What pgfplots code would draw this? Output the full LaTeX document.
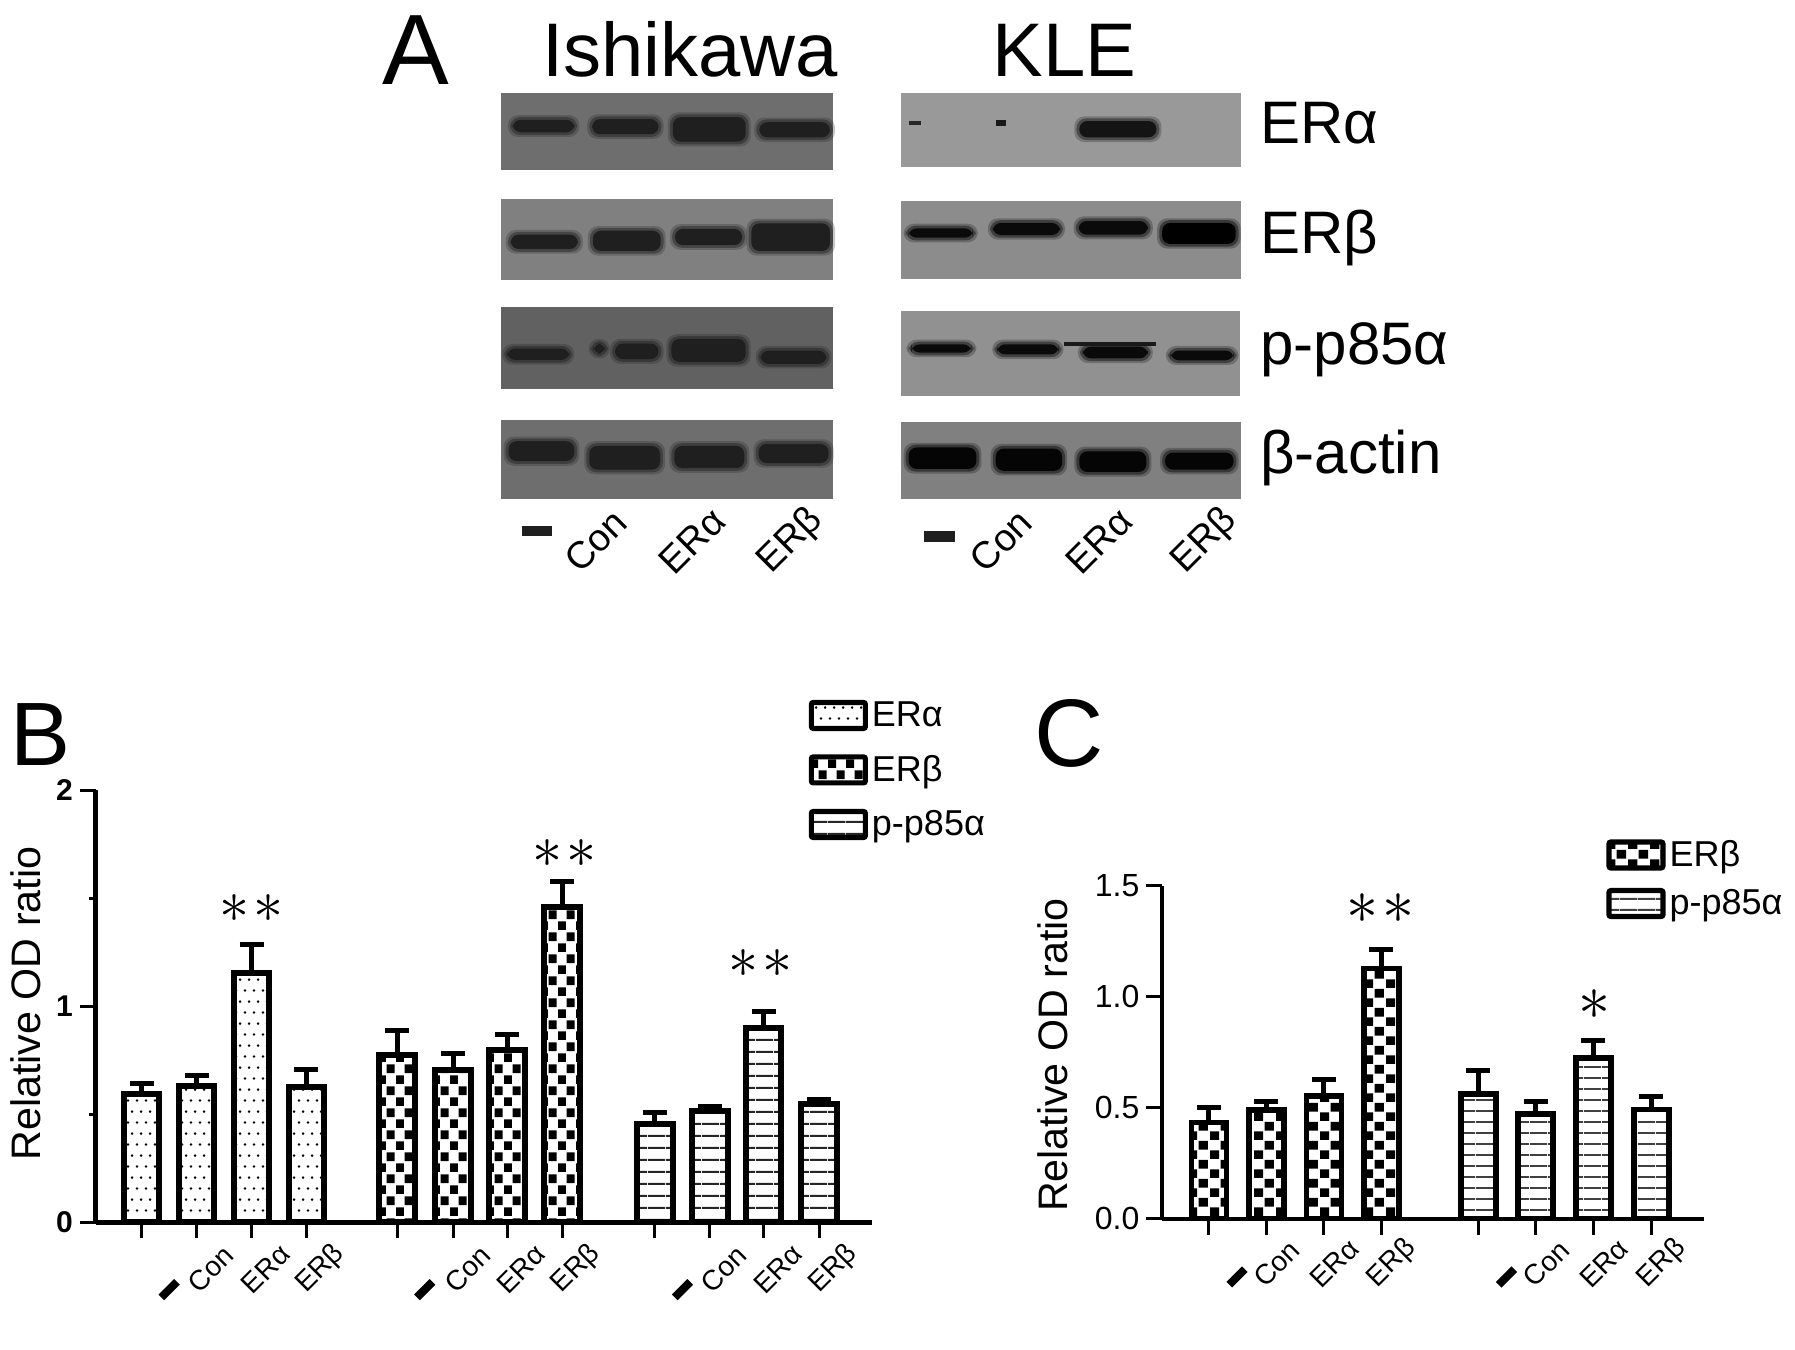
\documentclass[border=0pt]{standalone}
\usepackage{fontspec}
\setmainfont{Liberation Sans}
\usepackage{pgfplots}
\pgfplotsset{compat=1.18}
\usetikzlibrary{patterns}

\newcommand\fs[1]{\fontsize{#1}{#1}\selectfont}

% bar fills, tile sizes read from the crops (1 px = 0.5 pt)
\pgfdeclarepatternformonly{dotsB}{\pgfqpoint{0pt}{0pt}}{\pgfqpoint{4.5pt}{11.2pt}}{\pgfqpoint{4.5pt}{11.2pt}}{%
  \pgfpathcircle{\pgfqpoint{1.1pt}{2.8pt}}{.75pt}\pgfpathcircle{\pgfqpoint{3.35pt}{8.4pt}}{.75pt}\pgfusepath{fill}}
\pgfdeclarepatternformonly{checkB}{\pgfqpoint{0pt}{0pt}}{\pgfqpoint{9pt}{11.2pt}}{\pgfqpoint{9pt}{11.2pt}}{%
  \pgfpathrectangle{\pgfqpoint{0pt}{0pt}}{\pgfqpoint{4.2pt}{4.4pt}}\pgfpathrectangle{\pgfqpoint{4.5pt}{5.6pt}}{\pgfqpoint{4.2pt}{4.4pt}}\pgfusepath{fill}}
\pgfdeclarepatternformonly{stripB}{\pgfqpoint{0pt}{0pt}}{\pgfqpoint{9pt}{5.85pt}}{\pgfqpoint{9pt}{5.85pt}}{%
  \pgfpathrectangle{\pgfqpoint{0pt}{0pt}}{\pgfqpoint{9pt}{1.1pt}}\pgfusepath{fill}}
\pgfdeclarepatternformonly{checkC}{\pgfqpoint{0pt}{0pt}}{\pgfqpoint{11pt}{9.65pt}}{\pgfqpoint{11pt}{9.65pt}}{%
  \pgfpathrectangle{\pgfqpoint{0pt}{0pt}}{\pgfqpoint{4.8pt}{4.5pt}}\pgfpathrectangle{\pgfqpoint{5.5pt}{4.82pt}}{\pgfqpoint{4.8pt}{4.5pt}}\pgfusepath{fill}}
\pgfdeclarepatternformonly{stripC}{\pgfqpoint{0pt}{0pt}}{\pgfqpoint{9pt}{5.35pt}}{\pgfqpoint{9pt}{5.35pt}}{%
  \pgfpathrectangle{\pgfqpoint{0pt}{0pt}}{\pgfqpoint{9pt}{1pt}}\pgfusepath{fill}}

\pgfplotsset{
  barB/.style={ybar, bar width=17.75pt, bar shift=0pt, draw=black, line width=3pt,
    error bars/y dir=plus, error bars/y explicit,
    error bars/error bar style={line width=2.5pt},
    error bars/error mark options={line width=2.5pt, mark size=6pt, rotate=90}},
  barC/.style={ybar, bar width=17.5pt, bar shift=0pt, draw=black, line width=2.8pt,
    error bars/y dir=plus, error bars/y explicit,
    error bars/error bar style={line width=2.5pt},
    error bars/error mark options={line width=2.5pt, mark size=6pt, rotate=90}},
  panel/.style={
    scale only axis, clip=false,
    axis x line*=bottom, axis y line*=left,
    axis line style={-},
    tick align=outside,
    major tick length=8pt, minor tick length=3.5pt,
    tick style={black, line width=1.5pt},
    xtick pos=bottom, ytick pos=left,
    ymin=0,
    xticklabel style={font=\fs{14}, anchor=center, rotate=45},
    extra x tick style={xticklabel style={rotate=0, anchor=center}},
    extra x tick labels={\rule{11pt}{4pt},\rule{11pt}{4pt},\rule{11pt}{4pt}},
    every axis y label/.style={rotate=90, anchor=center, font=\fs{20.6}},
    legend cell align=left,
    legend image code/.code={\draw[##1, /tikz/line width=2.6pt, /tikz/rounded corners=1pt] (0pt,-6.5pt) rectangle (27pt,6.5pt);},
  },
}

% one western-blot band, in crop units: soft halo and dark core
\newcommand\band[5][black!88]{%
  \fill[#1,opacity=.25,rounded corners=5pt] (#2-5,#4-9) rectangle (#3+5,#5+9);
  \fill[#1,opacity=.45,rounded corners=5pt] (#2-2,#4-4) rectangle (#3+2,#5+4);
  \fill[#1,rounded corners=4pt] (#2+2,#4+3) rectangle (#3-2,#5-3);}
\newcommand\blot[5]{\fill[black!#5] (#1,#3) rectangle (#2,#4);}

\begin{document}
\begin{tikzpicture}
\useasboundingbox (0,0) rectangle (897.5pt,-675pt);

% panel A: blots, coordinates as in the crop of the region at x=360
\begin{scope}[shift={(180pt,0pt)}, x=0.35714pt, y=-0.19455pt]
  \blot{197}{662}{238}{436}{57}
  \blot{197}{662}{512}{720}{50}
  \blot{197}{662}{790}{1000}{62}
  \blot{197}{662}{1080}{1282}{57}
  \blot{758}{1233}{238}{428}{40}
  \blot{758}{1233}{516}{717}{45}
  \blot{758}{1232}{798}{1018}{43}
  \blot{758}{1233}{1085}{1282}{50}
  \band{212}{302}{305}{343}\band{323}{420}{303}{348}\band{436}{542}{298}{367}\band{557}{660}{311}{356}
  \band{209}{307}{600}{643}\band{324}{423}{590}{648}\band{439}{537}{585}{633}\band{546}{660}{571}{648}
  \band{204}{295}{893}{928}\band{325}{345}{880}{912}\band{355}{420}{880}{926}\band{434}{542}{868}{933}\band{559}{655}{898}{938}
  \band{206}{302}{1131}{1188}\band{319}{422}{1143}{1210}\band{438}{540}{1143}{1206}\band{556}{658}{1138}{1193}
  \fill[black!85] (768,310) rectangle (785,321);
  \fill[black!90] (890,308) rectangle (905,323);
  \band[black!92]{1005}{1117}{308}{356}
  \band[black!96]{766}{860}{584}{614}\band[black!96]{884}{982}{570}{607}\band[black!96]{1004}{1105}{565}{606}\band[black!100]{1121}{1228}{570}{630}
  \band[black!96]{770}{858}{882}{909}\band[black!96]{890}{980}{882}{914}\band[black!96]{1010}{1105}{888}{924}\band[black!96]{1133}{1225}{898}{929}
  \fill[black!90] (985,879) rectangle (1115,888);
  \band[black!98]{766}{865}{1147}{1208}\band[black!98]{888}{985}{1150}{1213}\band[black!98]{1005}{1103}{1157}{1216}\band[black!98]{1125}{1225}{1160}{1210}
\end{scope}

\node[anchor=base west, inner sep=0pt, font=\fs{50}] at (191pt,-42pt) {A};
\node[anchor=base west, inner sep=0pt, font=\fs{45}] at (5pt,-382.5pt) {B};
\node[anchor=base west, inner sep=0pt, font=\fs{48}] at (517pt,-383pt) {C};
\node[anchor=base west, inner sep=0pt, font=\fs{38}] at (271pt,-38pt) {Ishikawa};
\node[anchor=base west, inner sep=0pt, font=\fs{38}] at (496pt,-38pt) {KLE};
\node[anchor=base west, inner sep=0pt, font=\fs{30}] at (630pt,-71.5pt) {ERα};
\node[anchor=base west, inner sep=0pt, font=\fs{30}] at (630pt,-126.5pt) {ERβ};
\node[anchor=base west, inner sep=0pt, font=\fs{30}] at (630pt,-182pt) {p-p85α};
\node[anchor=base west, inner sep=0pt, font=\fs{30}] at (630pt,-236.5pt) {β-actin};

\foreach \xx/\lab in {297.8pt/Con,346pt/ERα,395.3pt/ERβ,500.5pt/Con,549.5pt/ERα,602.5pt/ERβ}
  \node[rotate=45, font=\fs{19}, inner sep=0pt] at (\xx,-270.5pt) {\lab};
\fill[black!88] (260.8pt,-262.8pt) rectangle (275.8pt,-267.8pt);
\fill[black!88] (462pt,-265.5pt) rectangle (477.5pt,-270.8pt);

% panel B
\begin{axis}[panel,
  at={(48pt,-611pt)}, anchor=south west,
  width=388pt, height=215.8pt,
  axis line style={line width=2.5pt},
  xmin=-0.83, xmax=13.29, ymax=2,
  ytick={0,1,2}, minor ytick={0.5,1.5},
  yticklabel style={font=\fs{15}\bfseries, /pgf/number format/assume math mode=true},
  xtick={1,2,3,5.67,6.65,7.65,10.34,11.32,12.33},
  xticklabels={Con,ERα,ERβ,Con,ERα,ERβ,Con,ERα,ERβ},
  xticklabel style={xshift=-6pt, yshift=-16pt},
  extra x ticks={0,4.65,9.34},
  extra x tick style={xticklabel style={xshift=-2.5pt, yshift=-12pt}},
  ylabel={Relative OD ratio},
  ylabel style={at={(axis description cs:-0.09,0.506)}},
  legend style={at={(0.918,1.216)}, anchor=north west, draw=none, fill=none,
    font=\fs{18}, inner sep=0pt, row sep=9pt, /tikz/column 2/.style={column sep=0pt}},
]
\addplot[barB, pattern=dotsB] coordinates {
  (0,0.594) +- (0,0.046) (1,0.630) +- (0,0.050) (2,1.152) +- (0,0.135) (3,0.626) +- (0,0.079)};
\addlegendentry{ERα}
\addplot[barB, pattern=checkB] coordinates {
  (4.65,0.772) +- (0,0.115) (5.67,0.705) +- (0,0.077) (6.65,0.796) +- (0,0.075) (7.65,1.461) +- (0,0.115)};
\addlegendentry{ERβ}
\addplot[barB, pattern=stripB, pattern color=black!85] coordinates {
  (9.34,0.455) +- (0,0.052) (10.34,0.515) +- (0,0.020) (11.32,0.897) +- (0,0.079) (12.33,0.547) +- (0,0.023)};
\addlegendentry{p-p85α}
\node[scale=3] at (axis cs:2,1.452) {$\ast\kern.6pt\ast$};
\node[scale=3] at (axis cs:7.69,1.709) {$\ast\kern.6pt\ast$};
\node[scale=3] at (axis cs:11.26,1.2) {$\ast\kern.6pt\ast$};
\end{axis}

% panel C
\begin{axis}[panel,
  at={(581.2pt,-609.25pt)}, anchor=south west,
  width=270.8pt, height=166.45pt,
  axis line style={line width=2pt},
  xmin=-0.807, xmax=8.612, ymax=1.5,
  ytick={0,0.5,1,1.5},
  yticklabels={0.0,0.5,1.0,1.5},
  yticklabel style={font=\fs{16}},
  xtick={1,2,3,5.683,6.689,7.694},
  xticklabels={Con,ERα,ERβ,Con,ERα,ERβ},
  xticklabel style={xshift=-6.5pt, yshift=-14pt},
  extra x ticks={0,4.685},
  extra x tick labels={\rule{11pt}{4pt},\rule{11pt}{4pt}},
  extra x tick style={xticklabel style={xshift=1.5pt, yshift=-11pt}},
  ylabel={Relative OD ratio},
  ylabel style={at={(axis description cs:-0.202,0.491)}},
  legend style={at={(0.819,1.149)}, anchor=north west, draw=none, fill=none,
    font=\fs{18}, inner sep=0pt, row sep=6pt},
]
\addplot[barC, pattern=checkC] coordinates {
  (0,0.433) +- (0,0.067) (1,0.489) +- (0,0.039) (2,0.551) +- (0,0.077) (3,1.127) +- (0,0.086)};
\addlegendentry{ERβ}
\addplot[barC, pattern=stripC, pattern color=black!75] coordinates {
  (4.685,0.562) +- (0,0.104) (5.683,0.470) +- (0,0.058) (6.689,0.724) +- (0,0.076) (7.694,0.491) +- (0,0.060)};
\addlegendentry{p-p85α}
\node[scale=3.2] at (axis cs:2.99,1.396) {$\ast\kern.6pt\ast$};
\node[scale=3.2] at (axis cs:6.71,0.963) {$\ast$};
\end{axis}
\end{tikzpicture}
\end{document}
